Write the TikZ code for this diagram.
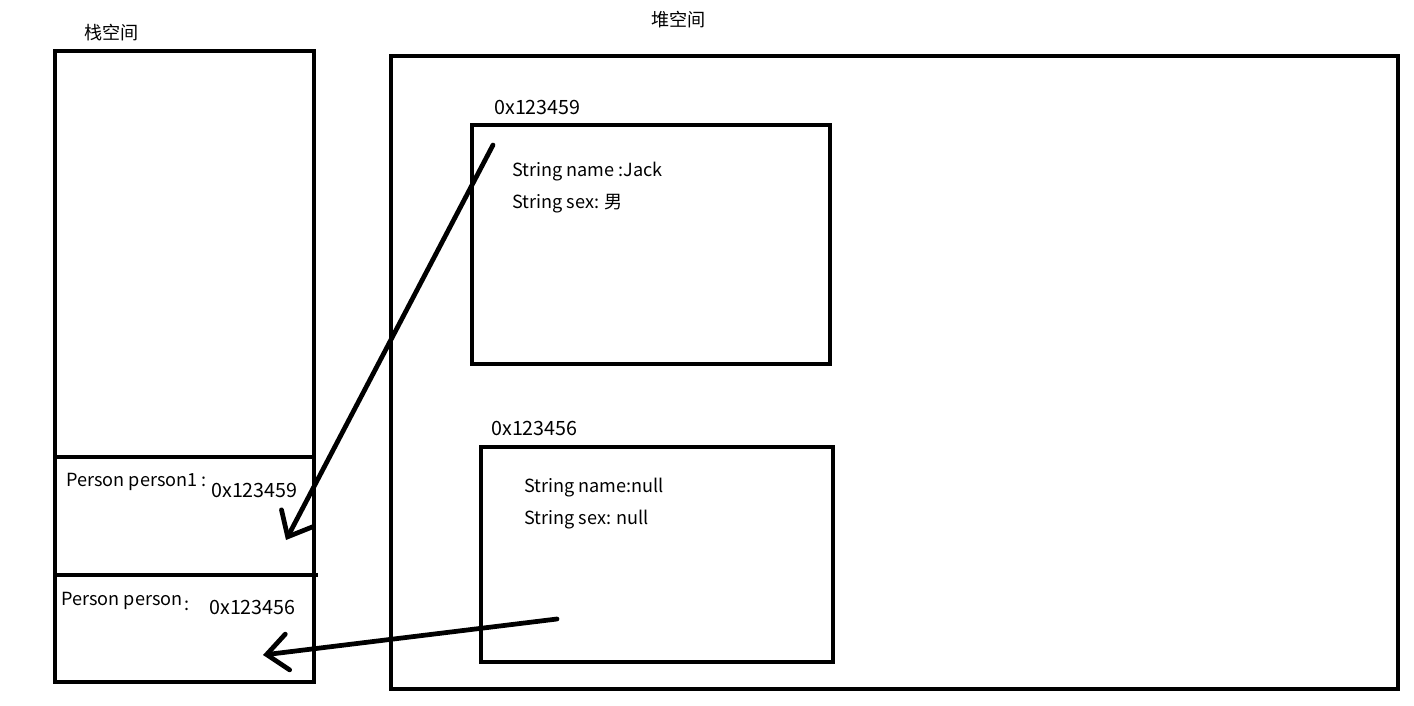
\documentclass[tikz,border=0pt]{standalone}
\usepackage{fontspec}
\setmainfont{Noto Sans CJK SC}
\usetikzlibrary{arrows.meta}
\tikzset{
  box/.style={line width=2.7pt},
  lbl/.style={anchor=west, inner sep=0pt, font=\fontsize{10.3}{12}\selectfont},
  addr/.style={lbl, font=\fontsize{11.2}{13}\selectfont},
  ptr/.style={line width=2.7pt, line cap=round, -{Straight Barb[length=0.42cm, width=0.72cm, line cap=round]}}
}

\begin{document}
\begin{tikzpicture}[x=0.02cm, y=-0.02cm]
			%%%%% START %%%%%
			\useasboundingbox (0, 0) rectangle (1414, 706);
			
			% stack
			\node[lbl] (stacktitle) at (84, 33) {栈空间};
			\draw[box] (55, 51) rectangle (314, 682);
			\draw[box] (55, 457) -- (314, 457);
			\draw[box] (55, 575) -- (318, 575);
			
			\node[lbl] (p1name) at (66, 482) {Person person1 :};
			\node[addr] (p1addr) at (211, 490) {0x123459};
			\node[lbl] (p0name) at (61, 601) {Person person};
			\node[lbl] (p0colon) at (184, 606) {:};
			\node[addr] (p0addr) at (209, 607) {0x123456};
			
			% heap
			\node[lbl] (heaptitle) at (651, 20) {堆空间};
			\draw[box] (391, 56) rectangle (1398, 689);
			
			\node[addr] (addrone) at (494, 107) {0x123459};
			\draw[box] (472, 125) rectangle (830, 364);
			\node[lbl] (jackname) at (512, 172) {String name :Jack};
			\node[lbl] (jacksex) at (512, 204) {String sex: 男};
			
			\node[addr] (addrtwo) at (491, 428) {0x123456};
			\draw[box] (481, 447) rectangle (833, 662);
			\node[lbl] (nullname) at (524, 488) {String name:null};
			\node[lbl] (nullsex) at (524, 520) {String sex: null};
			
			% pointers
			\coordinate (objone) at (493, 145);
			\coordinate (slotone) at (286, 540);
			\coordinate (objtwo) at (557, 619);
			\coordinate (slottwo) at (263, 655);
			\draw[ptr] (objone) -- (slotone);
			\draw[ptr] (objtwo) -- (slottwo);
			%%%%% END %%%%%
\end{tikzpicture}
\end{document}
